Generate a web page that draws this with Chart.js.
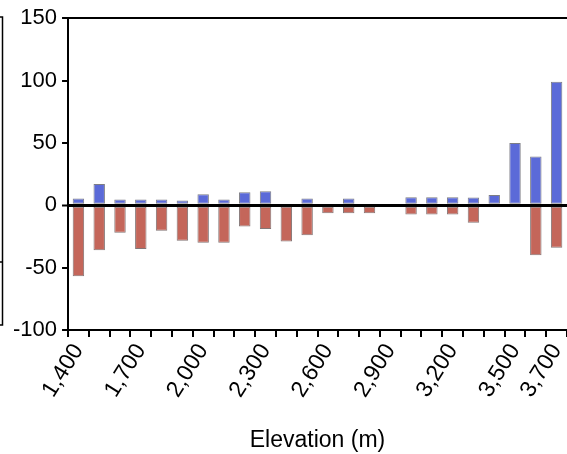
<!DOCTYPE html>
<html>
<head>
<meta charset="utf-8">
<script src="https://cdn.jsdelivr.net/npm/chart.js"></script>
<style>
  html, body { margin: 0; padding: 0; background: #fff; }
  #wrap { width: 567px; height: 454px; }
</style>
</head>
<body>
<div id="wrap"><canvas id="chart" width="567" height="454"></canvas></div>
<script>
// ----------------------------
// Data
// ----------------------------
const elevations = [1400, 1500, 1600, 1700, 1800, 1900, 2000, 2100, 2200, 2300, 2400, 2500,
                    2600, 2700, 2800, 2900, 3000, 3100, 3200, 3300, 3400, 3500, 3600, 3700];
const gains  = [5.5, 17, 4.6, 4.6, 4.6, 3.8, 8.9, 4.6, 10.5, 11.3, null, 5.4,
                null, 5.4, null, null, 6.5, 6.5, 6.5, 6.2, 8.3, 50, 39, 99];
const losses = [-57, -36, -22, -35, -20.5, -28.5, -30, -30, -17, -19, -29, -24,
                -6.5, -6.5, -6.5, null, -7.5, -7.5, -7.5, -14, null, null, -40, -34];
const yTicks = [150, 100, 50, 0, -50, -100];

const FONT = "'Liberation Sans', Arial, sans-serif";

// small bracket left over at the left edge of the figure
const edgeBracket = {
  id: "edgeBracket",
  afterDraw(chart) {
    const c = chart.ctx;
    c.save();
    c.strokeStyle = "#000";
    c.lineWidth = 1.5;
    c.beginPath();
    c.moveTo(0, 17); c.lineTo(2.5, 17); c.lineTo(2.5, 325); c.lineTo(0, 325);
    c.moveTo(0, 262); c.lineTo(2.5, 262);
    c.stroke();
    c.restore();
  }
};

new Chart(document.getElementById("chart"), {
  type: "bar",
  data: {
    labels: elevations.map(v => v.toLocaleString("en-US")),
    datasets: [
      {
        label: "gain",
        data: gains,
        backgroundColor: "#5b6ad8",
        borderColor: "rgba(70,70,80,0.7)",
        borderWidth: 1,
        borderSkipped: false
      },
      {
        label: "loss",
        data: losses,
        backgroundColor: "#c4665a",
        borderColor: "rgba(80,60,60,0.7)",
        borderWidth: 1,
        borderSkipped: false
      }
    ]
  },
  options: {
    responsive: false,
    devicePixelRatio: 1,
    animation: false,
    layout: { padding: { top: 8, right: 0, bottom: 0, left: 8 } },
    plugins: {
      legend: { display: false },
      tooltip: { enabled: false }
    },
    datasets: {
      bar: { categoryPercentage: 1, barPercentage: 0.55 }
    },
    scales: {
      x: {
        stacked: true,
        offset: true,
        afterFit: s => { s.paddingRight = 0; s.paddingLeft = 0; },
        border: { color: "#000", width: 2 },
        grid: { drawOnChartArea: false, color: "#000", tickColor: "#000", tickLength: 7, lineWidth: 2 },
        ticks: {
          autoSkip: false,
          minRotation: 58,
          maxRotation: 58,
          color: "#000",
          font: { family: FONT, size: 23 },
          padding: 2,
          callback: function (val, i) {
            return (i % 3 === 0 || i === elevations.length - 1) ? this.getLabelForValue(val) : "";
          }
        },
        title: {
          display: true,
          text: "Elevation (m)",
          color: "#000",
          font: { family: FONT, size: 23 },
          padding: { top: 22, bottom: 0 }
        }
      },
      y: {
        stacked: true,
        min: -100,
        max: 150,
        afterBuildTicks: axis => { axis.ticks = yTicks.map(v => ({ value: v })); },
        border: { color: "#000", width: 2 },
        grid: {
          color: ctx => (ctx.tick && (ctx.tick.value === 0 || ctx.tick.value === 150)) ? "#000" : "rgba(0,0,0,0)",
          lineWidth: ctx => (ctx.tick && ctx.tick.value === 0) ? 3 : 2,
          tickColor: "#000",
          tickLength: 6,
          tickWidth: 2
        },
        ticks: {
          color: "#000",
          font: { family: FONT, size: 22 },
          padding: 5
        }
      }
    }
  },
  plugins: [edgeBracket]
});
</script>
</body>
</html>
